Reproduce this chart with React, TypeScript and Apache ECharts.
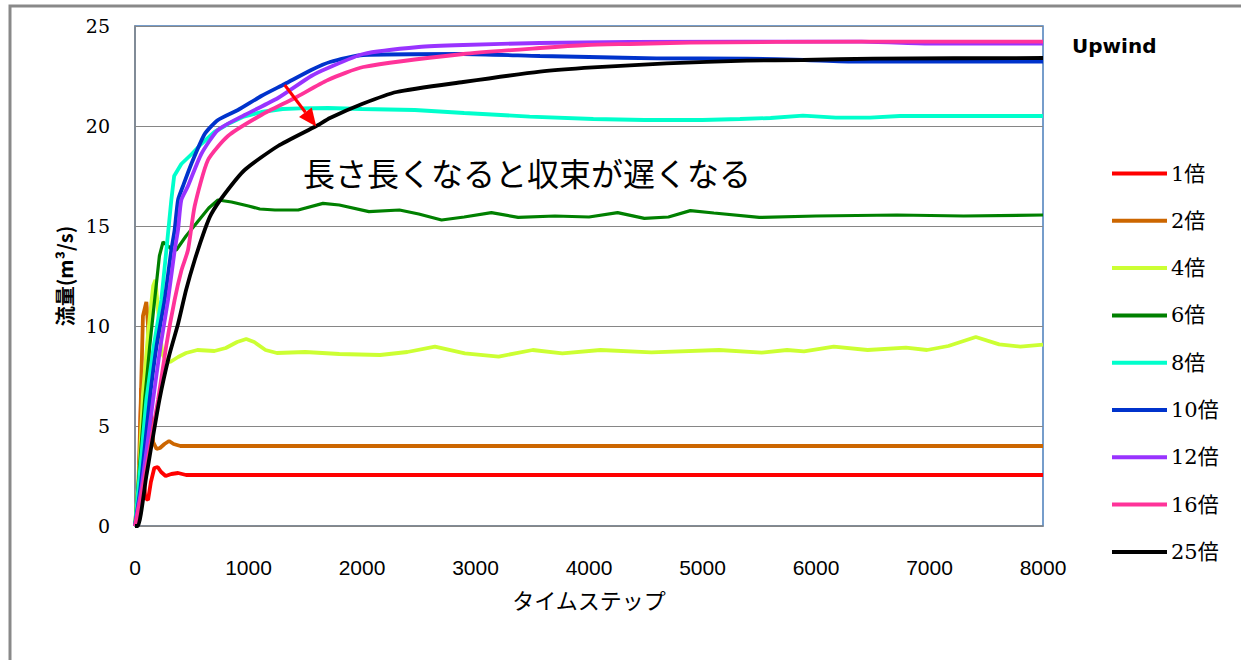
import React, { useEffect, useRef } from "react";
import * as echarts from "echarts";

const X_TICKS = [0, 1000, 2000, 3000, 4000, 5000, 6000, 7000, 8000];
const Y_TICKS = [0, 5, 10, 15, 20, 25];

const SERIES_NAMES = ["1倍", "2倍", "4倍", "6倍", "8倍", "10倍", "12倍", "16倍", "25倍"];
const SERIES_COLORS = ["#FF0000", "#CC6600", "#CCFF33", "#008000", "#00FFCC", "#0033CC", "#9933FF", "#FF3399", "#000000"];
const SERIES_SMOOTH = [false, false, false, false, false, true, true, true, true];

const s1 = [[0,0],[20,0.5],[40,3],[55,6.9],[70,3],[90,1.4],[115,1.3],[140,2.2],[170,2.9],[200,2.95],[230,2.7],[270,2.5],[320,2.6],[380,2.65],[450,2.55],[8000,2.55]];
const s2 = [[0,0],[30,2],[50,6],[70,10.5],[100,11.2],[115,10],[135,6],[160,4.2],[190,3.85],[220,3.9],[260,4.1],[300,4.25],[340,4.1],[400,4.0],[8000,4.0]];
const s4 = [[0,0],[40,3],[70,6.6],[115,9.6],[160,12.0],[180,12.3],[200,11],[240,8.6],[270,8.3],[310,8.2],[380,8.45],[450,8.65],[550,8.8],[700,8.75],[800,8.9],[900,9.2],[980,9.35],[1050,9.2],[1150,8.8],[1250,8.65],[1500,8.7],[1800,8.6],[2159,8.55],[2400,8.7],[2643,8.97],[2906,8.63],[3204,8.47],[3504,8.8],[3766,8.63],[4101,8.8],[4550,8.68],[5146,8.8],[5522,8.67],[5745,8.8],[5894,8.73],[6157,8.97],[6455,8.8],[6792,8.92],[6978,8.8],[7166,9.0],[7408,9.45],[7614,9.08],[7801,8.97],[8000,9.07]];
const s6 = [[0,0],[40,3],[85,6.3],[130,9],[173,11.3],[215,13.5],[247,14.2],[290,14.0],[330,13.8],[364,13.8],[450,14.5],[550,15.2],[650,15.9],[731,16.3],[850,16.2],[1000,16.0],[1100,15.85],[1233,15.8],[1438,15.8],[1656,16.13],[1800,16.05],[2061,15.72],[2330,15.8],[2500,15.6],[2701,15.3],[2900,15.45],[3140,15.67],[3376,15.43],[3700,15.5],[4000,15.45],[4252,15.67],[4488,15.38],[4700,15.45],[4893,15.77],[5100,15.65],[5500,15.43],[6000,15.5],[6714,15.55],[7300,15.5],[8000,15.55]];
const s8 = [[0,0],[40,2.5],[100,6.3],[165,9],[232,11.3],[280,14],[320,16.3],[345,17.5],[408,18.1],[500,18.6],[584,19.1],[700,19.7],[819,20.1],[950,20.45],[1113,20.7],[1300,20.85],[1454,20.88],[1700,20.9],[2000,20.85],[2465,20.8],[2900,20.65],[3477,20.47],[4038,20.35],[4488,20.3],[5000,20.3],[5330,20.35],[5600,20.4],[5885,20.52],[6175,20.42],[6476,20.42],[6740,20.5],[8000,20.5]];
const s10 = [[0,0],[50,2],[129,6.3],[190,9],[261,11.3],[320,13.8],[349,14.8],[379,16.3],[423,17.0],[496,18.1],[614,19.6],[731,20.3],[907,20.8],[1113,21.5],[1319,22.1],[1553,22.8],[1718,23.2],[2011,23.55],[2892,23.6],[3568,23.5],[4000,23.45],[4596,23.38],[5389,23.37],[5900,23.3],[6358,23.22],[8000,23.22]];
const s12 = [[0,0],[60,2],[159,6.3],[225,9],[291,11.3],[350,13.8],[379,14.8],[408,16.3],[467,17.0],[584,18.6],[731,19.8],[966,20.55],[1260,21.4],[1553,22.5],[1700,22.9],[2011,23.6],[2500,23.95],[2892,24.05],[3568,24.15],[4361,24.2],[6400,24.22],[7000,24.12],[8000,24.12]];
const s16 = [[0,0],[70,2],[203,6.3],[275,9],[349,11.3],[410,12.8],[467,13.8],[526,16.0],[643,18.3],[819,19.5],[1113,20.55],[1407,21.4],[1700,22.3],[2011,22.95],[2892,23.6],[3568,23.9],[3980,24.05],[4361,24.1],[4890,24.17],[6414,24.22],[8000,24.22]];
const s25 = [[0,0],[26,0],[100,2.5],[215,6.3],[300,8.5],[379,10.1],[450,11.8],[526,13.3],[614,14.8],[672,15.6],[790,16.6],[966,17.8],[1260,19.0],[1597,20.0],[1718,20.4],[2000,21.1],[2305,21.7],[2892,22.2],[3568,22.72],[4035,22.93],[4684,23.13],[5389,23.27],[5885,23.3],[6505,23.37],[8000,23.4]];

const SERIES_DATA = [s1, s2, s4, s6, s8, s10, s12, s16, s25];

const ARROW_FROM = [1319, 22.05];
const ARROW_TO = [1597, 19.97];
const NOTE = "長さ長くなると収束が遅くなる";
const TAG = "Upwind";
const X_NAME = "タイムステップ";
const Y_NAME = "流量(m³/s)";

export default function App() {
  const ref = useRef<HTMLDivElement>(null);
  useEffect(() => {
    if (!ref.current) return;
    const chart = echarts.init(ref.current, undefined, { renderer: "svg" });
    const series: any[] = SERIES_DATA.map((d, i) => ({
      name: SERIES_NAMES[i],
      type: "line",
      data: d,
      symbol: "none",
      smooth: SERIES_SMOOTH[i] ? 0.2 : false,
      lineStyle: { color: SERIES_COLORS[i], width: i === 3 ? 3.2 : 3.8 },
      itemStyle: { color: SERIES_COLORS[i] },
      z: 2 + i,
    }));
    const baseGraphic: any[] = [
      { type: "rect", silent: true, z: -10, shape: { x: 10, y: 6, width: 1300, height: 700 }, style: { fill: "none", stroke: "#898989", lineWidth: 3 } },
      { type: "text", x: 303, y: 172, z: 20, style: { text: NOTE, fontFamily: "Noto Sans CJK JP", fontSize: 32, fill: "#000", textVerticalAlign: "middle" } },
      { type: "text", x: 1072, y: 46, z: 20, style: { text: TAG, fontFamily: "DejaVu Sans", fontWeight: "bold", fontSize: 20, fill: "#000", textVerticalAlign: "middle" } },
    ];
    chart.setOption({
      animation: false,
      backgroundColor: "#ffffff",
      grid: {
        left: 135, top: 26, right: 198, bottom: 134,
        show: true, borderColor: "#4A7EBB", borderWidth: 1.5, backgroundColor: "transparent",
      },
      xAxis: {
        type: "value", min: 0, max: 8000, interval: 1000,
        name: X_NAME, nameLocation: "middle", nameGap: 62,
        nameTextStyle: { fontFamily: "Noto Sans CJK JP", fontSize: 22, color: "#000" },
        axisLine: { show: true, lineStyle: { color: "#868686", width: 1.5 } },
        axisTick: { show: false },
        splitLine: { show: false },
        axisLabel: {
          margin: 31, fontFamily: "'Liberation Sans Narrow', 'Liberation Sans'", fontSize: 21, color: "#000",
          formatter: (v: number) => String(v),
        },
      },
      yAxis: {
        type: "value", min: 0, max: 25, interval: 5,
        name: Y_NAME, nameLocation: "middle", nameGap: 60, nameRotate: 90,
        nameTextStyle: { fontFamily: "Noto Sans CJK JP", fontWeight: "bold", fontSize: 20, color: "#000" },
        axisLine: { show: true, lineStyle: { color: "#868686", width: 1.5 } },
        axisTick: { show: false },
        splitLine: { show: true, lineStyle: { color: "#868686", width: 1 } },
        axisLabel: { margin: 25, fontFamily: "DejaVu Serif", fontSize: 19, color: "#000" },
      },
      legend: {
        orient: "vertical", left: 1107, top: 158,
        icon: "rect",
        itemWidth: 55, itemHeight: 4, itemGap: 26.3,
        textStyle: { fontFamily: "'DejaVu Serif', 'Noto Sans CJK JP'", fontSize: 21, color: "#000", lineHeight: 20, padding: [0, 0, 0, -1] },
        data: SERIES_NAMES,
      },
      graphic: baseGraphic,
      series,
    });
    const p0 = chart.convertToPixel({ gridIndex: 0 }, ARROW_FROM) as number[];
    const p1 = chart.convertToPixel({ gridIndex: 0 }, ARROW_TO) as number[];
    const dx = p1[0] - p0[0], dy = p1[1] - p0[1];
    const len = Math.hypot(dx, dy);
    const ux = dx / len, uy = dy / len;
    const headLen = 18, headHalf = 8;
    const bx = p1[0] - ux * headLen, by = p1[1] - uy * headLen;
    chart.setOption({
      graphic: [
        ...baseGraphic,
        { type: "line", z: 30, silent: true, shape: { x1: p0[0], y1: p0[1], x2: bx, y2: by }, style: { stroke: "#FF0000", lineWidth: 3 } },
        { type: "polygon", z: 30, silent: true, shape: { points: [[p1[0], p1[1]], [bx - uy * headHalf, by + ux * headHalf], [bx + uy * headHalf, by - ux * headHalf]] }, style: { fill: "#FF0000" } },
      ],
    });
    return () => chart.dispose();
  }, []);
  return <div ref={ref} style={{ position: "absolute", left: 0, top: 0, width: 1241, height: 660 }} />;
}
